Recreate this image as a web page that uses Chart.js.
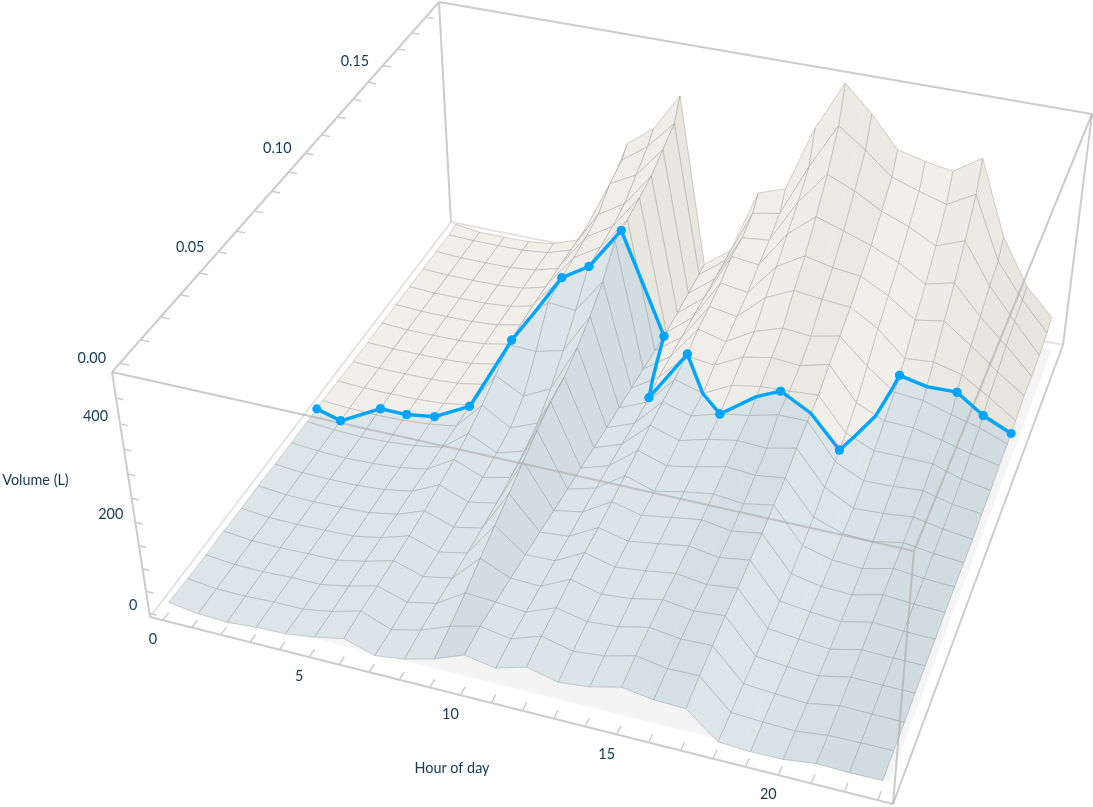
<!DOCTYPE html>
<html>
  <head>
    <meta charset="UTF-8" />
    <title>Volume by hour of day and rate</title>
    <script src="https://cdn.jsdelivr.net/npm/chart.js"></script>
    <style>
      html,
      body {
        margin: 0;
        background: #ffffff;
      }
      #surfaceChart {
        display: block;
      }
    </style>
  </head>
  <body>
    <canvas id="surfaceChart" width="1093" height="807"></canvas>
    <script>
      // data
      const hours = [0, 1, 2, 3, 4, 5, 6, 7, 8, 9, 10, 11, 12, 13, 14, 15, 16, 17, 18, 19, 20, 21, 22, 23];
      const rates = [0, 0.01, 0.02, 0.03, 0.04, 0.05, 0.06, 0.07, 0.08, 0.09, 0.1, 0.11, 0.12, 0.13, 0.14, 0.15, 0.16, 0.17, 0.18, 0.185];

      // one list per hour, one value per rate
      const volumeH00 = [19, 17, 16, 17, 16, 16, 15, 15, 15, 16, 15, 14, 14, 15, 15, 15, 15, 15, 14, 20];
      const volumeH01 = [10, 10, 10, 10, 10, 10, 10, 10, 10, 12, 12, 12, 12, 12, 12, 12, 12, 12, 12, 12];
      const volumeH02 = [7, 9, 9, 9, 9, 9, 9, 8, 8, 10, 12, 12, 12, 12, 12, 12, 12, 12, 12, 12];
      const volumeH03 = [12, 12, 12, 11, 11, 11, 10, 10, 10, 12, 13, 13, 13, 13, 13, 13, 13, 13, 13, 13];
      const volumeH04 = [14, 12, 12, 12, 13, 14, 15, 15, 16, 17, 17, 17, 17, 18, 18, 18, 18, 19, 19, 20];
      const volumeH05 = [23, 23, 24, 25, 25, 25, 26, 26, 26, 26, 27, 28, 29, 30, 31, 32, 34, 36, 38, 42];
      const volumeH06 = [36, 40, 40, 42, 44, 48, 55, 62, 72, 88, 108, 132, 138, 140, 140, 140, 140, 138, 135, 134];
      const volumeH07 = [15, 15, 20, 22, 23, 26, 31, 36, 42, 50, 75, 130, 195, 205, 210, 215, 225, 255, 268, 287];
      const volumeH08 = [24, 30, 33, 34, 36, 39, 43, 50, 60, 75, 105, 145, 190, 240, 245, 250, 260, 285, 310, 330];
      const volumeH09 = [41, 55, 72, 93, 112, 130, 150, 168, 182, 190, 209, 232, 265, 310, 315, 323, 331, 350, 369, 410];
      const volumeH10 = [66, 71, 68, 65, 63, 60, 56, 53, 50, 47, 44, 42, 40, 38, 35, 33, 35, 38, 40, 43];
      const volumeH11 = [54, 60, 62, 63, 65, 66, 68, 70, 70, 69, 68, 68, 78, 80, 80, 82, 83, 85, 86, 88];
      const volumeH12 = [73, 82, 87, 94, 98, 100, 105, 112, 118, 125, 130, 133, 140, 155, 162, 172, 190, 191, 206, 232];
      const volumeH13 = [57, 66, 73, 77, 82, 85, 90, 92, 98, 105, 112, 115, 132, 140, 152, 163, 183, 197, 217, 252];
      const volumeH14 = [64, 72, 78, 83, 89, 95, 100, 105, 110, 122, 130, 146, 163, 175, 206, 232, 262, 292, 329, 393];
      const volumeH15 = [80, 89, 93, 97, 99, 105, 110, 115, 125, 133, 140, 157, 175, 195, 234, 267, 311, 362, 426, 495];
      const volumeH16 = [70, 78, 84, 88, 90, 95, 100, 108, 120, 130, 155, 160, 170, 190, 227, 254, 292, 338, 386, 443];
      const volumeH17 = [68, 79, 86, 94, 98, 105, 110, 120, 128, 144, 155, 165, 186, 203, 222, 247, 272, 306, 340, 379];
      const volumeH18 = [14, 17, 20, 22, 26, 31, 37, 46, 57, 73, 80, 95, 115, 150, 188, 217, 247, 284, 321, 365];
      const volumeH19 = [10, 13, 15, 16, 19, 23, 24, 29, 35, 40, 51, 69, 88, 105, 135, 176, 212, 254, 304, 355];
      const volumeH20 = [11, 11, 11, 12, 13, 17, 21, 25, 32, 43, 53, 69, 86, 100, 140, 186, 227, 277, 336, 393];
      const volumeH21 = [20, 19, 23, 26, 28, 32, 37, 41, 45, 50, 58, 68, 72, 82, 125, 145, 165, 191, 204, 237];
      const volumeH22 = [18, 20, 22, 25, 26, 28, 32, 34, 36, 38, 42, 48, 56, 66, 88, 99, 113, 124, 129, 139];
      const volumeH23 = [19, 21, 21, 25, 26, 27, 30, 31, 31, 30, 35, 37, 43, 43, 48, 58, 56, 59, 66, 81];
      const volumes = [
        volumeH00, volumeH01, volumeH02, volumeH03, volumeH04, volumeH05, volumeH06, volumeH07,
        volumeH08, volumeH09, volumeH10, volumeH11, volumeH12, volumeH13, volumeH14, volumeH15,
        volumeH16, volumeH17, volumeH18, volumeH19, volumeH20, volumeH21, volumeH22, volumeH23,
      ];

      // the blue path over the surface
      const pathHours = [0, 1, 2, 3, 4, 5, 6, 7, 8, 9, 10, 11, 12, 13, 14, 15, 15.72, 17, 18, 18.7, 19, 20, 21, 22, 23];
      const pathRates = [0.0861, 0.0842, 0.093, 0.0927, 0.0936, 0.0994, 0.1121, 0.1305, 0.1308, 0.135, 0.148, 0.1119, 0.1207, 0.11, 0.1, 0.1065, 0.1095, 0.103, 0.104, 0.12, 0.135, 0.1336, 0.1356, 0.134, 0.1345];
      const pathDotHours = [0, 1, 2, 3, 4, 5, 6, 7, 8, 9, 10, 11, 12, 14, 15.72, 18, 19, 21, 22, 23];

      // tick values
      const hourTicks = hours;
      const hourLabels = [0, 5, 10, 15, 20];
      const rateTicks = [0, 0.01, 0.02, 0.03, 0.04, 0.05, 0.06, 0.07, 0.08, 0.09, 0.1, 0.11, 0.12, 0.13, 0.14, 0.15, 0.16, 0.17, 0.18];
      const rateLabels = [0, 0.05, 0.1, 0.15];
      const volumeTicks = [0, 50, 100, 150, 200, 250, 300, 350, 400, 450];
      const volumeLabels = [0, 200, 400];

      // box extents
      const hourMin = -0.45;
      const hourMax = 23.45;
      const rateMin = -0.0037;
      const rateMax = 0.1898;
      const volumeSpan = 500;
      const volumeZero = 8;
      const volumeTickStep = 0.985;
      const depthRatio = 1.1;

      // shading per hour strip, 0 light to 1 dark
      const stripShade = [0, 0, 0, 0, 0, 0, 0.05, 0.05, 0.1, 0.85, 0.05, 0.05, 0.1, 0.1, 0.2, 0.55, 0.55, 0, 0, 0.25, 0.55, 0.8, 0.9];

      // box corners on the page: front left, front right, back right, back left
      const floorCorners = [[150, 617], [893, 804], [1063, 345], [451, 222]];
      const topCorners = [[112, 372], [914, 551], [1092, 114], [439, 2]];

      function squareToQuad(q) {
        const dx1 = q[1][0] - q[2][0], dx2 = q[3][0] - q[2][0], sx = q[0][0] - q[1][0] + q[2][0] - q[3][0];
        const dy1 = q[1][1] - q[2][1], dy2 = q[3][1] - q[2][1], sy = q[0][1] - q[1][1] + q[2][1] - q[3][1];
        const den = dx1 * dy2 - dx2 * dy1;
        const g = (sx * dy2 - dx2 * sy) / den;
        const h = (dx1 * sy - sx * dy1) / den;
        return {
          a: q[1][0] - q[0][0] + g * q[1][0], b: q[3][0] - q[0][0] + h * q[3][0], c: q[0][0],
          d: q[1][1] - q[0][1] + g * q[1][1], e: q[3][1] - q[0][1] + h * q[3][1], f: q[0][1],
          g: g, h: h,
        };
      }
      const floorMap = squareToQuad(floorCorners);
      const topMap = squareToQuad(topCorners);

      function applyMap(m, u, v) {
        const w = m.g * u + m.h * v + 1;
        return { x: (m.a * u + m.b * v + m.c) / w, y: (m.d * u + m.e * v + m.f) / w };
      }

      // hour, rate, volume to a page position
      function project(hour, rate, volume) {
        const u = (hour - hourMin) / (hourMax - hourMin);
        const v = (rate - rateMin) / (rateMax - rateMin);
        const low = applyMap(floorMap, u, v);
        const high = applyMap(topMap, u, v);
        const w = volume / volumeSpan;
        const t = w / (w + (1 - w) * depthRatio);
        return { x: low.x + (high.x - low.x) * t, y: low.y + (high.y - low.y) * t };
      }

      function rateIndex(rate) {
        let j = 0;
        while (j < rates.length - 2 && rate > rates[j + 1]) j++;
        return j;
      }

      function surfaceVolume(hour, rate) {
        const i = Math.min(Math.floor(hour), hours.length - 2);
        const j = rateIndex(rate);
        const s = hour - i;
        const t = (rate - rates[j]) / (rates[j + 1] - rates[j]);
        return (
          volumes[i][j] * (1 - s) * (1 - t) +
          volumes[i + 1][j] * s * (1 - t) +
          volumes[i][j + 1] * (1 - s) * t +
          volumes[i + 1][j + 1] * s * t
        );
      }

      function pathRateAt(hour) {
        let k = 0;
        while (k < pathHours.length - 2 && hour > pathHours[k + 1]) k++;
        const s = (hour - pathHours[k]) / (pathHours[k + 1] - pathHours[k]);
        return pathRates[k] + (pathRates[k + 1] - pathRates[k]) * s;
      }

      // keep the part of a polygon on one side of the path
      function clipToPath(poly, side) {
        const out = [];
        for (let n = 0; n < poly.length; n++) {
          const p = poly[n];
          const q = poly[(n + 1) % poly.length];
          const fp = (pathRateAt(p.hour) - p.rate) * side;
          const fq = (pathRateAt(q.hour) - q.rate) * side;
          if (fp >= 0) out.push(p);
          if ((fp > 0 && fq < 0) || (fp < 0 && fq > 0)) {
            const t = fp / (fp - fq);
            out.push({ hour: p.hour + (q.hour - p.hour) * t, rate: p.rate + (q.rate - p.rate) * t });
          }
        }
        return out;
      }

      function mix(a, b, t) {
        const c = a.map((n, k) => Math.round(n + (b[k] - n) * t));
        return "rgb(" + c.join(",") + ")";
      }
      const blueLight = [220, 230, 233];
      const blueDark = [207, 219, 223];
      const sandLight = [242, 238, 233];
      const sandDark = [231, 227, 221];

      function toPage(poly) {
        return poly.map((p) => project(p.hour, p.rate, surfaceVolume(p.hour, p.rate)));
      }

      function fillSet(points, color) {
        return {
          data: points,
          showLine: true,
          fill: "shape",
          backgroundColor: color,
          borderColor: color,
          borderWidth: 0.5,
          pointRadius: 0,
          clip: false,
        };
      }

      function lineSet(points, color, width) {
        return {
          data: points,
          showLine: true,
          fill: false,
          borderColor: color,
          borderWidth: width,
          pointRadius: 0,
          clip: false,
        };
      }

      // far rows first, and in each row from the outer hours towards the viewer
      function paintOrder() {
        const order = [];
        for (let i = 0; i < hours.length - 1; i++) order.push(i);
        order.sort((p, q) => Math.abs(q + 0.5 - 12) - Math.abs(p + 0.5 - 12));
        return order;
      }

      function surfaceSets() {
        const sets = [];
        const order = paintOrder();
        for (let j = rates.length - 2; j >= 0; j--) {
          order.forEach((i) => {
            const blue = mix(blueLight, blueDark, stripShade[i]);
            const sand = mix(sandLight, sandDark, stripShade[i]);
            const cuts = [i, ...pathHours.filter((h) => h > i && h < i + 1), i + 1];
            for (let c = 0; c < cuts.length - 1; c++) {
              const rect = [
                { hour: cuts[c], rate: rates[j] },
                { hour: cuts[c + 1], rate: rates[j] },
                { hour: cuts[c + 1], rate: rates[j + 1] },
                { hour: cuts[c], rate: rates[j + 1] },
              ];
              const lower = clipToPath(rect, 1);
              const upper = clipToPath(rect, -1);
              if (upper.length > 2) sets.push(fillSet(toPage(upper), sand));
              if (lower.length > 2) sets.push(fillSet(toPage(lower), blue));
            }
            const outline = [
              project(hours[i], rates[j], volumes[i][j]),
              project(hours[i + 1], rates[j], volumes[i + 1][j]),
              project(hours[i + 1], rates[j + 1], volumes[i + 1][j + 1]),
              project(hours[i], rates[j + 1], volumes[i][j + 1]),
              project(hours[i], rates[j], volumes[i][j]),
            ];
            sets.push(lineSet(outline, "rgba(110,115,112,0.36)", 0.8));
          });
        }
        return sets;
      }

      function pathPoints() {
        // add a point wherever the path crosses a grid line, so it follows the facets
        const points = [];
        for (let k = 0; k < pathHours.length - 1; k++) {
          const h0 = pathHours[k], h1 = pathHours[k + 1];
          const r0 = pathRates[k], r1 = pathRates[k + 1];
          const stops = [0, 1];
          hours.forEach((h) => {
            if (h > h0 && h < h1) stops.push((h - h0) / (h1 - h0));
          });
          rates.forEach((r) => {
            if ((r > r0 && r < r1) || (r < r0 && r > r1)) stops.push((r - r0) / (r1 - r0));
          });
          stops.sort((a, b) => a - b);
          stops.forEach((t) => {
            const hour = h0 + (h1 - h0) * t;
            const rate = r0 + (r1 - r0) * t;
            const pos = project(hour, rate, surfaceVolume(hour, rate));
            pos.dot = (t === 0 && pathDotHours.includes(h0)) || (t === 1 && pathDotHours.includes(h1));
            points.push(pos);
          });
        }
        return points;
      }

      function segmentSet(pairs, color, width) {
        const points = [];
        pairs.forEach((pair) => {
          points.push(pair[0], pair[1], { x: NaN, y: NaN });
        });
        return lineSet(points, color, width);
      }

      const volumeTickPoint = (v, hour = hourMin) => project(hour, rateMin, (v + volumeZero) * volumeTickStep);
      const rateTickPoint = (r) => project(hourMin, r, volumeSpan);
      const hourTickPoint = (h) => project(h, rateMin, 0);

      const under = [];
      // floor patch under the surface
      under.push(
        fillSet(
          [
            project(0, 0.003, 0),
            project(23.12, 0.003, 0),
            project(23.12, 0.186, 0),
            project(0, 0.186, 0),
          ],
          "#f4f4f4"
        )
      );
      under.push(
        segmentSet(
          [
            [project(hourMin, rateMin, 0), project(hourMin, rateMax, 0)],
            [project(hourMin, rateMax, 0), project(hourMax, rateMax, 0)],
          ],
          "#e2e2e2",
          2
        )
      );
      under.push(
        segmentSet(
          [
            [project(hourMin, rateMin, 0), project(hourMax, rateMin, 0)],
            [project(hourMax, rateMin, 0), project(hourMax, rateMax, 0)],
            [project(hourMax, rateMax, 0), project(hourMax, rateMax, volumeSpan)],
            [project(hourMin, rateMin, 0), project(hourMin, rateMin, volumeSpan)],
            [project(hourMin, rateMax, 0), project(hourMin, rateMax, volumeSpan)],
            [project(hourMin, rateMin, volumeSpan), project(hourMin, rateMax, volumeSpan)],
            [project(hourMin, rateMax, volumeSpan), project(hourMax, rateMax, volumeSpan)],
          ],
          "#cccccc",
          2
        )
      );
      under.push(
        segmentSet(
          [
            ...hourTicks.map((h) => [hourTickPoint(h), project(h, rateMin + 0.003, 0)]),
            ...rateTicks.map((r) => [rateTickPoint(r), project(hourMin + 0.3, r, volumeSpan)]),
            ...volumeTicks.map((v) => [volumeTickPoint(v), volumeTickPoint(v, hourMin + 0.25)]),
          ],
          "#cccccc",
          1.5
        )
      );

      const over = [
        segmentSet(
          [
            [project(hourMin, rateMin, volumeSpan), project(hourMax, rateMin, volumeSpan)],
            [project(hourMax, rateMin, 0), project(hourMax, rateMin, volumeSpan)],
            [project(hourMax, rateMin, volumeSpan), project(hourMax, rateMax, volumeSpan)],
          ],
          "rgba(175,170,170,0.62)",
          2
        ),
      ];

      const blueLine = pathPoints();
      const blueSet = {
        data: blueLine,
        showLine: true,
        fill: false,
        borderColor: "#00a5ff",
        borderWidth: 3.4,
        borderJoinStyle: "round",
        pointRadius: blueLine.map((p) => (p.dot ? 4.5 : 0)),
        pointBackgroundColor: "#00a5ff",
        pointBorderWidth: 0,
        clip: false,
      };

      // chart.js paints the first dataset last
      const datasets = [...under, ...surfaceSets(), ...over, blueSet].reverse();

      const textColor = "#123a55";
      const axisText = {
        id: "axisText",
        afterDatasetsDraw(chart) {
          const ctx = chart.ctx;
          const sx = chart.scales.x;
          const sy = chart.scales.y;
          const put = (text, p, dx, dy, align) => {
            ctx.textAlign = align;
            ctx.fillText(text, sx.getPixelForValue(p.x) + dx, sy.getPixelForValue(p.y) + dy);
          };
          ctx.save();
          ctx.font = '14.4px Lato, "Open Sans", sans-serif';
          ctx.fillStyle = textColor;
          ctx.textBaseline = "middle";
          hourLabels.forEach((h) => put(String(h), hourTickPoint(h), -10, 19.5, "center"));
          rateLabels.forEach((r) => put(r.toFixed(2), rateTickPoint(r), -28, -4.5, "center"));
          volumeLabels.forEach((v) => put(String(v), volumeTickPoint(v), -12, -8, "right"));
          put("Hour of day", { x: 452, y: 768 }, 0, 0, "center");
          put("Volume (L)", { x: 35.5, y: 480 }, 0, 0, "center");
          ctx.restore();
        },
      };

      new Chart(document.getElementById("surfaceChart"), {
        type: "scatter",
        data: { datasets: datasets },
        plugins: [axisText],
        options: {
          responsive: false,
          animation: false,
          layout: { padding: 0, autoPadding: false },
          plugins: { legend: { display: false }, tooltip: { enabled: false } },
          scales: {
            x: { type: "linear", display: false, min: 0, max: 1093 },
            y: { type: "linear", display: false, min: 0, max: 807, reverse: true },
          },
        },
      });
    </script>
  </body>
</html>
